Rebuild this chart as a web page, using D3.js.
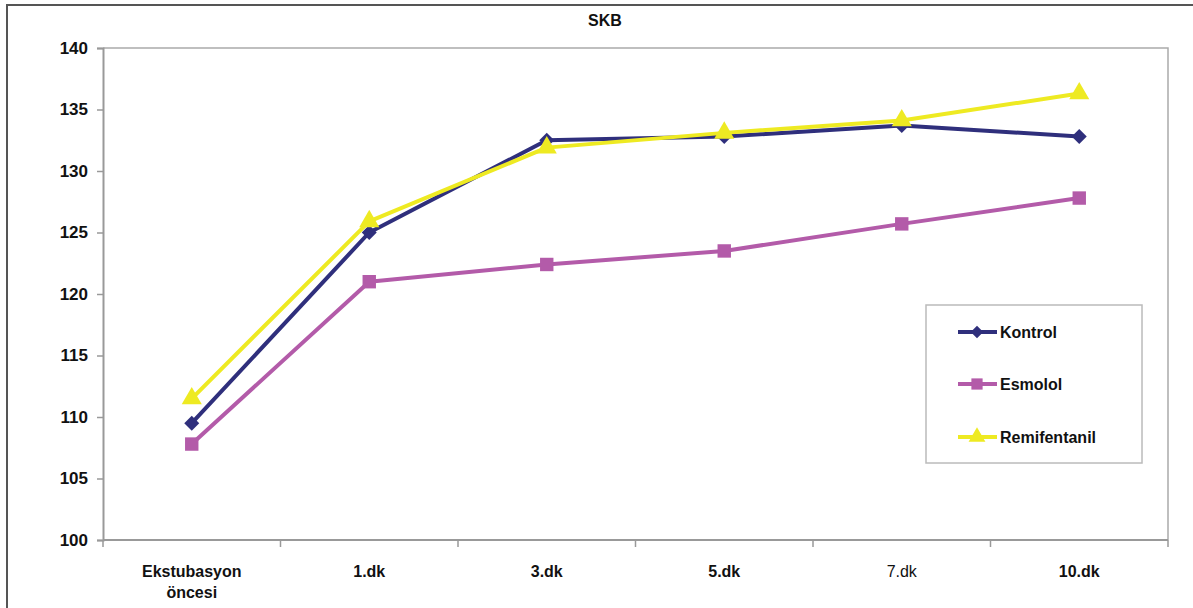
<!DOCTYPE html>
<html>
<head>
<meta charset="utf-8">
<script src="https://cdn.jsdelivr.net/npm/d3@7"></script>
<style>
  html, body { margin: 0; padding: 0; background: #fff; }
  svg { display: block; font-family: "Liberation Sans", Arial, sans-serif; }
</style>
</head>
<body>
<svg id="chart" width="1193" height="608"></svg>
<script>
// Systolic blood pressure (SKB) over time for three groups
const categories = ["Ekstubasyon öncesi", "1.dk", "3.dk", "5.dk", "7.dk", "10.dk"];
const kontrol      = [109.5, 125.0, 132.5, 132.8, 133.7, 132.8];
const esmolol      = [107.8, 121.0, 122.4, 123.5, 125.7, 127.8];
const remifentanil = [111.5, 125.9, 131.9, 133.1, 134.1, 136.3];
const yTicks = [100, 105, 110, 115, 120, 125, 130, 135, 140];

// Square diamond (equal width and height)
const symbolRhombus = {
  draw(context, size) {
    const r = Math.sqrt(size / 2);
    context.moveTo(0, -r);
    context.lineTo(r, 0);
    context.lineTo(0, r);
    context.lineTo(-r, 0);
    context.closePath();
  }
};

const series = [
  { name: "Kontrol",      values: kontrol,      color: "#2f2f7c", shape: symbolRhombus,    size: 112 },
  { name: "Esmolol",      values: esmolol,      color: "#b35ba9", shape: d3.symbolSquare,   size: 180 },
  { name: "Remifentanil", values: remifentanil, color: "#eeea22", shape: d3.symbolTriangle, size: 175 }
];

const svg = d3.select("#chart");
const plot = { left: 103, right: 1168, top: 48, bottom: 540 };

// Outer chart frame
svg.append("rect")
  .attr("x", 7).attr("y", 5).attr("width", 1200).attr("height", 620)
  .attr("fill", "none").attr("stroke", "#555").attr("stroke-width", 2);

const x = d3.scaleBand().domain(categories).range([plot.left, plot.right]).padding(0);
const y = d3.scaleLinear().domain([100, 140]).range([plot.bottom, plot.top]);

// Plot area border (top and right)
svg.append("path")
  .attr("d", `M${plot.left},${plot.top}H${plot.right}V${plot.bottom}`)
  .attr("fill", "none").attr("stroke", "#aaa").attr("stroke-width", 1.5);

// Y axis
const yAxis = svg.append("g")
  .attr("transform", `translate(${plot.left},0)`)
  .call(d3.axisLeft(y).tickValues(yTicks).tickSize(6).tickPadding(9));
yAxis.select(".domain").attr("stroke", "#999").attr("stroke-width", 2);
yAxis.selectAll(".tick line").attr("stroke", "#999").attr("stroke-width", 1.5);
yAxis.selectAll(".tick text")
  .attr("fill", "#111").style("font-size", "17px").style("font-weight", "bold");

// X axis: ticks sit on category boundaries
const xAxisG = svg.append("g").attr("transform", `translate(0,${plot.bottom})`);
xAxisG.append("line")
  .attr("x1", plot.left).attr("x2", plot.right).attr("y1", 0).attr("y2", 0)
  .attr("stroke", "#999").attr("stroke-width", 2);
const boundaries = categories.map(c => x(c)).concat([x(categories[categories.length - 1]) + x.bandwidth()]);
xAxisG.selectAll("line.tick")
  .data(boundaries).enter().append("line")
  .attr("class", "tick")
  .attr("x1", d => d).attr("x2", d => d).attr("y1", 0).attr("y2", 7)
  .attr("stroke", "#999").attr("stroke-width", 1.5);

const xLabels = xAxisG.selectAll("text.lbl")
  .data(categories).enter().append("text")
  .attr("class", "lbl")
  .attr("x", d => x(d) + x.bandwidth() / 2)
  .attr("y", 37)
  .attr("text-anchor", "middle")
  .attr("fill", "#111")
  .style("font-size", "16px")
  .style("font-weight", d => d === "7.dk" ? "normal" : "bold");
xLabels.each(function (d) {
  const words = d.split(" ");
  const t = d3.select(this);
  words.forEach((w, i) => {
    t.append("tspan")
      .attr("x", x(d) + x.bandwidth() / 2)
      .attr("dy", i === 0 ? 0 : 21)
      .text(w);
  });
});

// Title
svg.append("text")
  .attr("x", 605).attr("y", 26)
  .attr("text-anchor", "middle")
  .attr("fill", "#111")
  .style("font-size", "16px").style("font-weight", "bold")
  .text("SKB");

// Lines and markers
const line = d3.line()
  .x((d, i) => x(categories[i]) + x.bandwidth() / 2)
  .y(d => y(d));

series.forEach(s => {
  const g = svg.append("g");
  g.append("path")
    .attr("d", line(s.values))
    .attr("fill", "none")
    .attr("stroke", s.color)
    .attr("stroke-width", 4)
    .attr("stroke-linejoin", "round");
  g.selectAll("path.pt")
    .data(s.values).enter().append("path")
    .attr("class", "pt")
    .attr("transform", (d, i) => `translate(${x(categories[i]) + x.bandwidth() / 2},${y(d)})`)
    .attr("d", d3.symbol().type(s.shape).size(s.size))
    .attr("fill", s.color);
});

// Legend
const legend = svg.append("g");
legend.append("rect")
  .attr("x", 926).attr("y", 305).attr("width", 216).attr("height", 158)
  .attr("fill", "#fff").attr("stroke", "#bbb").attr("stroke-width", 1.5);
const legendY = [332, 384, 437];
series.forEach((s, i) => {
  const ly = legendY[i];
  legend.append("line")
    .attr("x1", 958).attr("x2", 997).attr("y1", ly).attr("y2", ly)
    .attr("stroke", s.color).attr("stroke-width", 4);
  legend.append("path")
    .attr("transform", `translate(977,${ly})`)
    .attr("d", d3.symbol().type(s.shape).size(s.size * 0.7))
    .attr("fill", s.color);
  legend.append("text")
    .attr("x", 1000).attr("y", ly + 6)
    .attr("fill", "#111")
    .style("font-size", "16px").style("font-weight", "bold")
    .text(s.name);
});
</script>
</body>
</html>
